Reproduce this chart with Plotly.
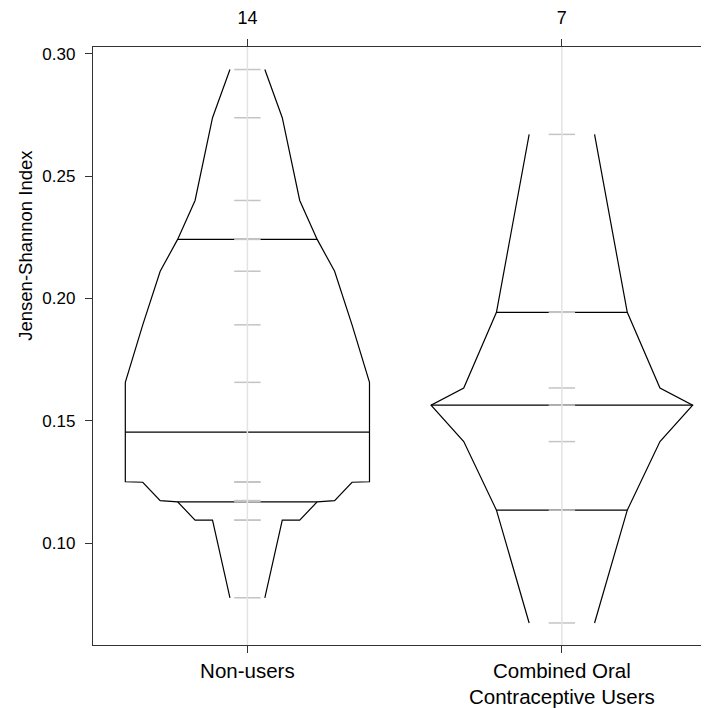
import plotly.graph_objects as go

# data
groups = ["Non-users", "Combined Oral<br>Contraceptive Users"]
nonusers = [0.0777, 0.1094, 0.1094, 0.1169, 0.1174, 0.1249, 0.1251,
            0.1657, 0.1892, 0.2111, 0.2241, 0.2400, 0.2738, 0.2935]
coc_users = [0.0674, 0.1135, 0.1415, 0.1564, 0.1634, 0.1943, 0.2670]
ytick_vals = [0.10, 0.15, 0.20, 0.25, 0.30]

half_width = 0.416   # max half width of a bean (x units)
mark_half = 0.042    # half length of the grey data marks

fig = go.Figure()

for pos, vals in zip([1, 2], [nonusers, coc_users]):
    v = sorted(vals)
    n = len(v)
    depth = [min(i + 1, n - i) for i in range(n)]
    w = [d / ((n + 1) / 2) * half_width for d in depth]

    # outline, left and right side
    xs = [pos - a for a in w] + [None] + [pos + a for a in w]
    ys = v + [None] + v
    fig.add_trace(go.Scatter(x=xs, y=ys, mode="lines",
                             line=dict(color="black", width=1.2),
                             hoverinfo="skip", showlegend=False))

    # median and hinges
    m = (n + 1) // 2
    if n % 2 == 0:
        med = (v[m - 1] + v[m]) / 2
    else:
        med = v[m - 1]
    h = (m + 1) // 2
    levels = [(v[h - 1], h), (med, m), (v[n - h], h)]
    lx, ly = [], []
    for val, d in levels:
        a = d / ((n + 1) / 2) * half_width
        lx += [pos - a, pos + a, None]
        ly += [val, val, None]
    fig.add_trace(go.Scatter(x=lx, y=ly, mode="lines",
                             line=dict(color="black", width=1.2),
                             hoverinfo="skip", showlegend=False))

    # grey data marks
    tx, ty = [], []
    for val in v:
        tx += [pos - mark_half, pos + mark_half, None]
        ty += [val, val, None]
    fig.add_trace(go.Scatter(x=tx, y=ty, mode="lines",
                             line=dict(color="#c4c4c4", width=1.5),
                             hoverinfo="skip", showlegend=False))

    fig.add_vline(x=pos, line=dict(color="#e3e3e3", width=1.5), layer="above")

# invisible trace so the top axis shows
fig.add_trace(go.Scatter(x=[1, 2], y=[0.2, 0.2], xaxis="x2", mode="markers",
                         marker=dict(opacity=0), hoverinfo="skip", showlegend=False))

counts = [str(len(nonusers)), str(len(coc_users))]
fam = "Liberation Sans, Arial, sans-serif"

fig.update_layout(
    width=709, height=708,
    margin=dict(l=85, r=2, t=39, b=71),
    plot_bgcolor="white", paper_bgcolor="white",
    font=dict(family=fam, size=17, color="black"),
    xaxis=dict(range=[0.509, 2.487], tickvals=[1, 2], ticktext=groups,
               showgrid=False, zeroline=False, ticks="outside", ticklen=7,
               tickcolor="#333", showline=True, linecolor="#333", linewidth=1.3,
               mirror=True, tickfont=dict(size=20.5), automargin=False,
               ticklabelstandoff=0),
    xaxis2=dict(range=[0.509, 2.487], overlaying="x", side="top", anchor="y",
                tickvals=[1, 2], ticktext=counts, showgrid=False, zeroline=False,
                ticks="outside", ticklen=7, tickcolor="#333", showline=False,
                tickfont=dict(size=18), automargin=False, ticklabelstandoff=8),
    yaxis=dict(range=[0.0584, 0.3027], tickvals=ytick_vals,
               ticktext=["%.2f" % t for t in ytick_vals],
               showgrid=False, zeroline=False, ticks="outside", ticklen=7,
               tickcolor="#333", showline=True, linecolor="#333", linewidth=1.3,
               mirror=True, automargin=False, ticklabelstandoff=6),
)

fig.add_annotation(text="Jensen-Shannon Index", textangle=-90,
                   xref="paper", yref="paper", x=-0.108, y=0.669,
                   xanchor="center", yanchor="middle", showarrow=False,
                   font=dict(family=fam, size=18.5, color="black"))

fig.write_html("out.html")
